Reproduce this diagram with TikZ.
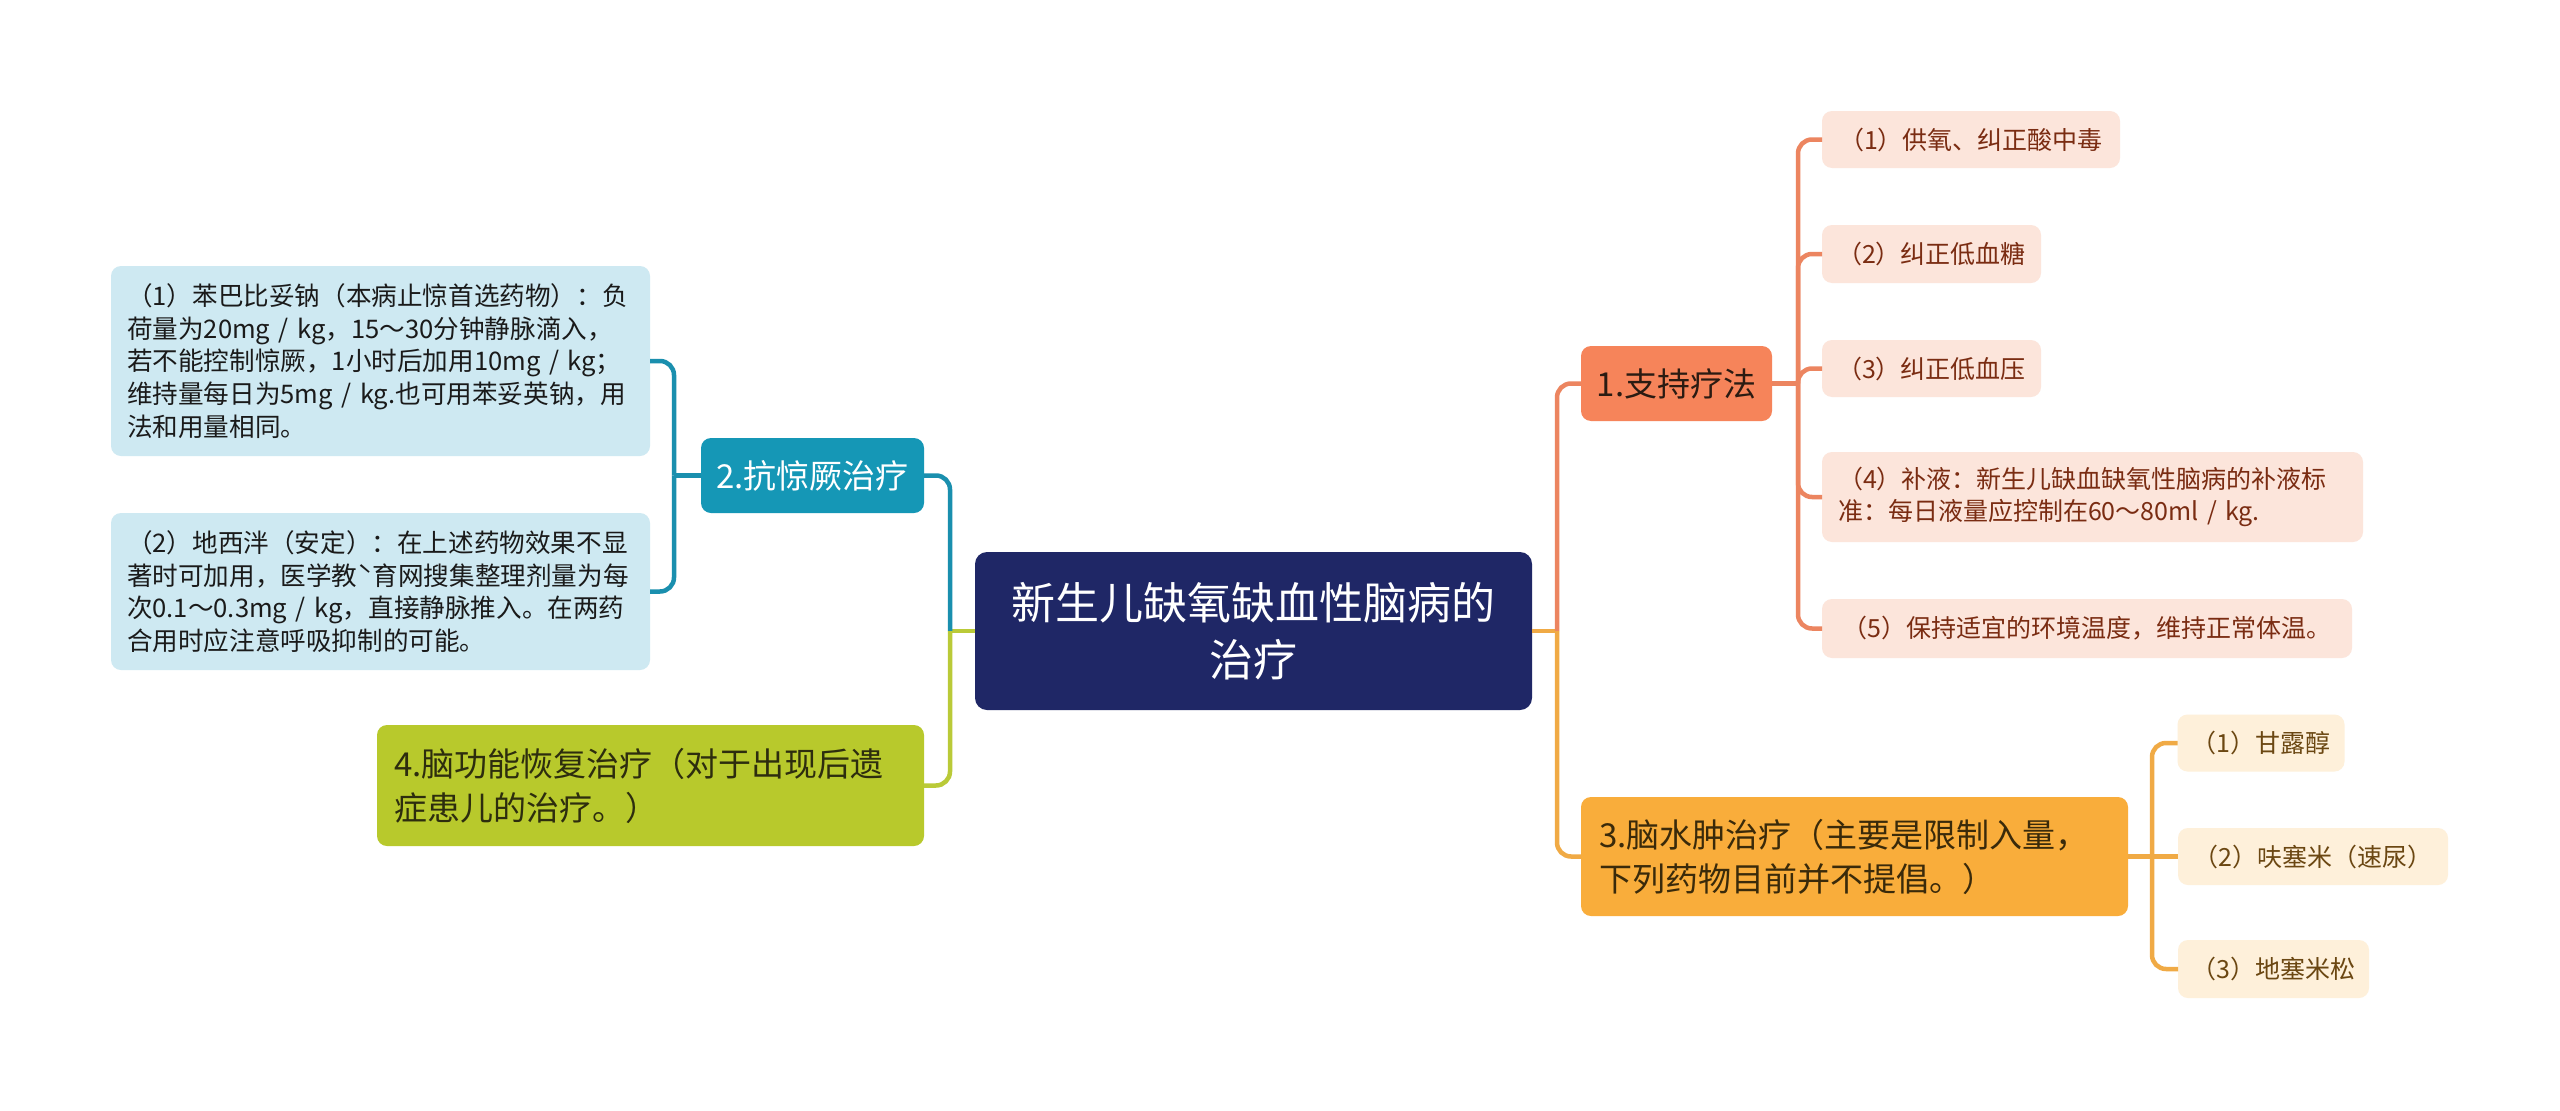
\documentclass[tikz,border=0pt]{standalone}
\usepackage{fontspec}
\setmainfont{Noto Sans CJK SC}
\usetikzlibrary{calc}
\definecolor{cNavy}{HTML}{1F2766}
\definecolor{cOrange}{HTML}{F6845A}
\definecolor{cOrangeLine}{HTML}{EC8560}
\definecolor{cOrangeText}{HTML}{2B1B12}
\definecolor{cPink}{HTML}{FCE5DB}
\definecolor{cPinkText}{HTML}{7A2C12}
\definecolor{cGold}{HTML}{F9AD3B}
\definecolor{cGoldLine}{HTML}{F0AA45}
\definecolor{cGoldText}{HTML}{3A2A0A}
\definecolor{cCream}{HTML}{FEF0DA}
\definecolor{cCreamText}{HTML}{6B4712}
\definecolor{cTeal}{HTML}{1597B6}
\definecolor{cTealLine}{HTML}{1A8FAE}
\definecolor{cSky}{HTML}{CEE9F2}
\definecolor{cSkyText}{HTML}{1A1A1A}
\definecolor{cGreen}{HTML}{B8C92C}
\definecolor{cGreenLine}{HTML}{BACA38}
\definecolor{cGreenText}{HTML}{2D2D0E}
\begin{document}
\begin{tikzpicture}[x=1pt,y=-1pt,
  box/.style={rounded corners=10pt, inner sep=0pt, outer sep=0pt},
  root/.style={box, fill=cNavy, text=white, font=\fontsize{44}{57}\selectfont, align=center, rounded corners=12pt},
  branch/.style={box, font=\fontsize{33}{44}\selectfont},
  leaf/.style={box, font=\fontsize{25}{32.7}\selectfont},
  leafL/.style={box, font=\fontsize{25.6}{32.7}\selectfont},
  conn/.style={line width=4.5pt, rounded corners=14pt},
]
\path[fill=white] (0,0) rectangle (2560,1111);
\useasboundingbox (0,0) rectangle (2560,1111);

% root
\node[root, minimum width=557pt, minimum height=158pt] (root) at (1253.5,631) {新生儿缺氧缺血性脑病的\\治疗};

% branch 1
\node[branch, fill=cOrange, text=cOrangeText, minimum width=191pt, minimum height=75pt] (b1) at (1676.5,383.5) {1.支持疗法};
\node[leaf, fill=cPink, text=cPinkText, minimum width=298pt, minimum height=57pt] (l11) at (1971,139.5) {（1）供氧、纠正酸中毒};
\node[leaf, fill=cPink, text=cPinkText, minimum width=219pt, minimum height=58pt] (l12) at (1931.5,254) {（2）纠正低血糖};
\node[leaf, fill=cPink, text=cPinkText, minimum width=219pt, minimum height=57pt] (l13) at (1931.5,368.5) {（3）纠正低血压};
\node[leaf, fill=cPink, text=cPinkText, inner xsep=16pt, text width=509pt, align=left, minimum height=90pt] (l14) at (2092.5,497) {（4）补液：新生儿缺血缺氧性脑病的补液标\\准：每日液量应控制在60～80ml~/~kg.};
\node[leaf, fill=cPink, text=cPinkText, minimum width=530pt, minimum height=59pt] (l15) at (2087,628.5) {（5）保持适宜的环境温度，维持正常体温。};

% branch 3
\node[branch, fill=cGold, text=cGoldText, inner xsep=18pt, text width=511pt, align=left, minimum height=119pt] (b3) at (1854.5,856.5) {3.脑水肿治疗（主要是限制入量，\\下列药物目前并不提倡。）};
\node[leaf, fill=cCream, text=cCreamText, minimum width=167pt, minimum height=57pt] (l31) at (2261,743) {（1）甘露醇};
\node[leaf, fill=cCream, text=cCreamText, minimum width=270pt, minimum height=57pt] (l32) at (2313,856.5) {（2）呋塞米（速尿）};
\node[leaf, fill=cCream, text=cCreamText, minimum width=191pt, minimum height=58pt] (l33) at (2273.5,969) {（3）地塞米松};

% branch 2
\node[branch, fill=cTeal, text=white, minimum width=223pt, minimum height=75pt] (b2) at (812.5,475.5) {2.抗惊厥治疗};
\node[leafL, fill=cSky, text=cSkyText, inner xsep=16pt, text width=507pt, align=left, minimum height=190pt] (l21) at (380.5,361) {（1）苯巴比妥钠（本病止惊首选药物）：负\\荷量为20mg~/~kg，15～30分钟静脉滴入，\\若不能控制惊厥，1小时后加用10mg~/~kg；\\维持量每日为5mg~/~kg.也可用苯妥英钠，用\\法和用量相同。};
\node[leafL, fill=cSky, text=cSkyText, inner xsep=16pt, text width=507pt, align=left, minimum height=157pt] (l22) at (380.5,591.5) {（2）地西泮（安定）：在上述药物效果不显\\著时可加用，医学教ˋ育网搜集整理剂量为每\\次0.1～0.3mg~/~kg，直接静脉推入。在两药\\合用时应注意呼吸抑制的可能。};

% branch 4
\node[branch, fill=cGreen, text=cGreenText, inner xsep=17pt, text width=513pt, align=left, minimum height=121pt] (b4) at (650.5,785.5) {4.脑功能恢复治疗（对于出现后遗\\症患儿的治疗。）};

% connectors: root to branches
\coordinate (jR) at ($(root.east)+(25,0)$);
\coordinate (jL) at ($(root.west)+(-25,0)$);
\draw[conn, cGoldLine] (root.east) -- (jR);
\draw[conn, cOrangeLine] (jR) |- (b1.west);
\draw[conn, cGoldLine] (jR) |- (b3.west);
\draw[conn, cGreenLine] (root.west) -- (jL);
\draw[conn, cTealLine] (jL) |- (b2.east);
\draw[conn, cGreenLine] (jL) |- (b4.east);

% branch 1 children
\coordinate (j1) at ($(b1.east)+(26,0)$);
\draw[conn, cOrangeLine] (b1.east) -- (j1);
\foreach \n in {l11,l12,l13,l14,l15} \draw[conn, cOrangeLine] (j1) |- (\n.west);

% branch 3 children
\coordinate (j3) at ($(b3.east)+(24,0)$);
\draw[conn, cGoldLine] (b3.east) -- (l32.west);
\draw[conn, cGoldLine] (j3) |- (l31.west);
\draw[conn, cGoldLine] (j3) |- (l33.west);

% branch 2 children
\coordinate (j2) at ($(b2.west)+(-27,0)$);
\draw[conn, cTealLine] (b2.west) -- (j2);
\draw[conn, cTealLine] (j2) |- (l21.east);
\draw[conn, cTealLine] (j2) |- (l22.east);
\end{tikzpicture}
\end{document}
